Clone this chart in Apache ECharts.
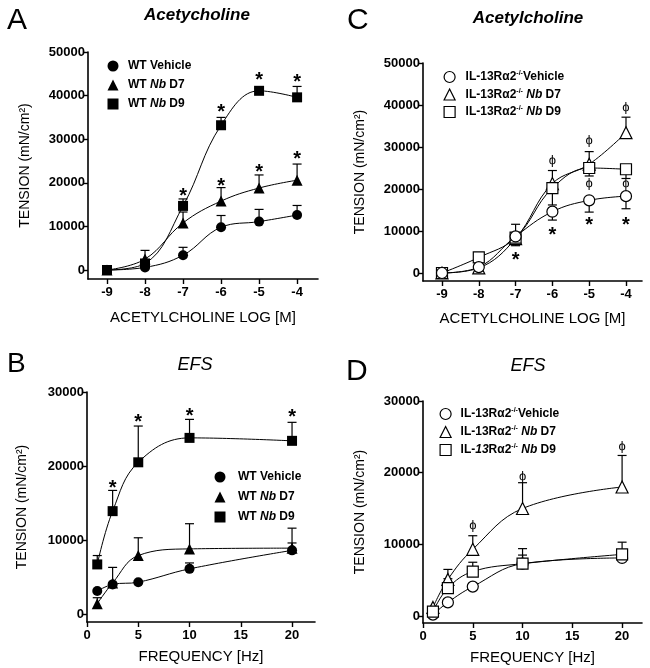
<!DOCTYPE html>
<html><head><meta charset="utf-8">
<script src="https://cdn.jsdelivr.net/npm/echarts/dist/echarts.min.js"></script>
<style>html,body{margin:0;padding:0;background:#fff}#c{width:650px;height:668px}</style>
</head><body><div id="c"></div>
<script>
// ---------- data ----------
const logDose = [-9, -8, -7, -6, -5, -4];
const freq = [1, 2.5, 5, 10, 20];
const logTicks = [-9, -8, -7, -6, -5, -4];
const freqTicks = [0, 5, 10, 15, 20];
const accTensionTicks = [0, 10000, 20000, 30000, 40000, 50000];
const efsTensionTicks = [0, 10000, 20000, 30000];

// Panel A (WT, acetylcholine)
const aVeh = [0, 600, 3400, 9800, 11100, 12600];
const aVehErr = [null, 1000, 5200, 12500, 13900, 14800];
const aD7 = [0, 2500, 10800, 15800, 18800, 20600];
const aD7Err = [null, 4500, 13300, 18900, 21800, 24300];
const aD9 = [0, 1500, 14700, 33200, 41100, 39600];
const aD9Err = [null, 2000, 16300, 35000, 41700, 42100];
const aStarX = [-7, -6, -6, -5, -5, -4, -4];
const aStarY = [18000, 37300, 20300, 44700, 23400, 44100, 26400];

// Panel C (IL-13Ra2-/-, acetylcholine)
const cVeh = [0, 1400, 8700, 14600, 17300, 18300];
const cVehErr = [null, null, 7000, 12600, 14500, 15300];
const cD7 = [0, 1200, 8200, 21300, 25900, 33400];
const cD7Err = [null, null, 11600, 24400, 28900, 37100];
const cD9 = [0, 3700, 8400, 20200, 25000, 24700];
const cD9Err = [null, null, 6500, 16200, 23100, 22500];
const cPhiX = [-6, -5, -4, -5, -4];
const cPhiY = [26800, 31600, 39500, 21400, 21400];
const cStarX = [-7, -6, -5, -4];
const cStarY = [4200, 10200, 12400, 12500];

// Panel B (WT, EFS)
const bVeh = [3100, 4000, 4300, 6100, 8600];
const bVehErr = [null, null, null, 6900, 9600];
const bD7 = [1400, 4200, 7900, 8800, 8900];
const bD7Err = [2200, 6300, 10300, 12200, 11600];
const bD9 = [6700, 13900, 20500, 23800, 23400];
const bD9Err = [7900, 16700, 25400, 26300, 25900];
const bStarX = [2.5, 5, 10, 20];
const bStarY = [17600, 26500, 27400, 27200];

// Panel D (IL-13Ra2-/-, EFS)
const dVeh = [200, 1900, 4100, 7300, 8100];
const dVehErr = [null, null, null, 8500, 9200];
const dD7 = [1200, 5100, 9300, 15000, 18000];
const dD7Err = [null, 6500, 11200, 18600, 22400];
const dD9 = [600, 3900, 6200, 7300, 8600];
const dD9Err = [null, 5200, 7500, 9400, 10300];
const dPhiX = [5, 10, 20];
const dPhiY = [12700, 19500, 23700];

// ---------- helpers ----------
const FONT = '"Liberation Sans", Arial, Helvetica, sans-serif';

function xAx(g, min, max, ticks, name, gap) {
  return {
    type: 'value', gridIndex: g, min, max,
    axisLine: {onZero: false, lineStyle: {color: '#000', width: 1.6}},
    axisTick: {customValues: ticks, length: 5, lineStyle: {color: '#000', width: 1.4}},
    axisLabel: {customValues: ticks, formatter: v => String(v), color: '#000', fontSize: 13, fontWeight: 'bold', fontFamily: FONT, margin: 7},
    splitLine: {show: false},
    name, nameLocation: 'middle', nameGap: gap,
    nameTextStyle: {color: '#000', fontSize: 15, fontFamily: FONT}
  };
}
function yAx(g, min, max, ticks, gap) {
  return {
    type: 'value', gridIndex: g, min, max,
    axisLine: {onZero: false, lineStyle: {color: '#000', width: 1.6}},
    axisTick: {customValues: ticks, length: 5, lineStyle: {color: '#000', width: 1.4}},
    axisLabel: {customValues: ticks, formatter: v => String(v), color: '#000', fontSize: 13, fontWeight: 'bold', fontFamily: FONT, margin: 3},
    splitLine: {show: false},
    name: 'TENSION (mN/cm²)', nameLocation: 'middle', nameRotate: 90, nameGap: gap,
    nameTextStyle: {color: '#000', fontSize: 14, fontFamily: FONT}
  };
}
function lineS(name, xs, ys, idx, symbol, size, open, z) {
  return {
    type: 'line', name, xAxisIndex: idx, yAxisIndex: idx,
    data: xs.map((x, i) => [x, ys[i]]),
    smooth: 0.4, symbol, symbolSize: size, showSymbol: true,
    lineStyle: {color: '#000', width: 1},
    itemStyle: {color: open ? '#fff' : '#000', borderColor: '#000', borderWidth: open ? 1.2 : 0},
    z: z, animation: false, emphasis: {disabled: true}, silent: true
  };
}
function errRender(params, api) {
  const x = api.value(0), y = api.value(1), e = api.value(2);
  const p0 = api.coord([x, y]), p1 = api.coord([x, e]);
  return {type: 'group', children: [
    {type: 'line', shape: {x1: p0[0], y1: p0[1], x2: p1[0], y2: p1[1]}, style: {stroke: '#000', lineWidth: 1.2}},
    {type: 'line', shape: {x1: p1[0] - 4.5, y1: p1[1], x2: p1[0] + 4.5, y2: p1[1]}, style: {stroke: '#000', lineWidth: 1.2}}
  ]};
}
function errS(xs, ys, es, idx) {
  const data = [];
  xs.forEach((x, i) => { if (es[i] != null) data.push([x, ys[i], es[i]]); });
  return {type: 'custom', xAxisIndex: idx, yAxisIndex: idx, data, renderItem: errRender,
    encode: {x: 0, y: [1, 2]}, z: 2, silent: true, animation: false};
}
function textS(xs, ys, txt, idx, size, dy, weight) {
  return {type: 'custom', xAxisIndex: idx, yAxisIndex: idx,
    data: xs.map((x, i) => [x, ys[i]]), encode: {x: 0, y: 1}, z: 6, silent: true, animation: false,
    renderItem: (p, api) => {
      const c = api.coord([api.value(0), api.value(1)]);
      return {type: 'text', x: c[0], y: c[1] + dy,
        style: {text: txt, fill: '#000', fontSize: size, fontFamily: FONT, fontWeight: weight,
          align: 'center', verticalAlign: 'middle'}};
    }};
}
function richFor(pad) {
  return {
    g: {width: pad, fontSize: 12, lineHeight: 14},
    i: {fontStyle: 'italic', fontWeight: 'bold', fontSize: 12, fontFamily: FONT, color: '#000', lineHeight: 14},
    s: {fontWeight: 'bold', fontSize: 7, fontFamily: FONT, color: '#000', lineHeight: 14, verticalAlign: 'top'},
    n: {fontWeight: 'bold', fontSize: 12, fontFamily: FONT, color: '#000', lineHeight: 14}
  };
}
const labels = {
  aV: '{n|WT Vehicle}', a7: '{n|WT }{i|Nb}{n| D7}', a9: '{n|WT }{i|Nb}{n| D9}',
  bV: '{n|WT Vehicle}', b7: '{n|WT }{i|Nb}{n| D7}', b9: '{n|WT }{i|Nb}{n| D9}',
  cV: '{n|IL-13Rα2}{s|-/-}{n|Vehicle}', c7: '{n|IL-13Rα2}{s|-/-}{n| }{i|Nb}{n| D7}', c9: '{n|IL-13Rα2}{s|-/-}{n| }{i|Nb}{n| D9}',
  dV: '{n|IL-13Rα2}{s|-/-}{n|Vehicle}', d7: '{n|IL-13Rα2}{s|-/-}{n| }{i|Nb}{n| D7}', d9: '{n|IL-}{i|13}{n|Rα2}{s|-/-}{n| }{i|Nb}{n| D9}'
};
// centerX: icon centre, textX: text start, firstY: first row centre, step: row spacing
function leg(prefix, centerX, textX, firstY, step, open) {
  const st = open ? {color: '#fff', borderColor: '#000', borderWidth: 1.2} : {color: '#000', borderColor: '#000', borderWidth: 0};
  const pad = Math.max(0, textX - (centerX + 5.5 + 5));
  return {
    orient: 'vertical', left: centerX - 5.5, top: firstY - 7, itemWidth: 11, itemHeight: 11,
    itemGap: step - 14, selectedMode: false, symbolKeepAspect: true,
    data: [
      {name: prefix + 'V', icon: 'circle', itemStyle: st},
      {name: prefix + '7', icon: 'triangle', itemStyle: st},
      {name: prefix + '9', icon: 'rect', itemStyle: st}
    ],
    formatter: n => '{g|}' + labels[n],
    textStyle: {fontSize: 12, fontWeight: 'bold', fontFamily: FONT, color: '#000', lineHeight: 14, rich: richFor(pad)}
  };
}
function txt(x, y, s, size, style, weight, align) {
  return {type: 'text', x, y, style: {text: s, fill: '#000', fontSize: size, fontStyle: style || 'normal',
    fontWeight: weight || 'normal', fontFamily: FONT, align: align || 'center', verticalAlign: 'middle'}};
}

const option = {
  backgroundColor: '#fff',
  animation: false,
  grid: [
    {left: 88, top: 52, width: 230, height: 227},   // A
    {left: 423, top: 63, width: 219, height: 218},  // C
    {left: 87, top: 392, width: 228, height: 230},  // B
    {left: 423, top: 401, width: 219, height: 222}  // D
  ],
  xAxis: [
    xAx(0, -9.5, -3.45, logTicks, 'ACETYLCHOLINE LOG [M]', 31),
    xAx(1, -9.516, -3.565, logTicks, 'ACETYLCHOLINE LOG [M]', 30),
    xAx(2, 0, 22.24, freqTicks, 'FREQUENCY [Hz]', 27),
    xAx(3, 0, 22.0, freqTicks, 'FREQUENCY [Hz]', 27)
  ],
  yAxis: [
    yAx(0, -2064, 50000, accTensionTicks, 56),
    yAx(1, -1905, 50000, accTensionTicks, 56),
    yAx(2, -1081, 30000, efsTensionTicks, 58),
    yAx(3, -977, 30000, efsTensionTicks, 56)
  ],
  legend: [
    leg('a', 108, 123, 61, 19, false),
    leg('c', 444, 460, 72, 17.5, true),
    leg('b', 215, 233, 472, 20, false),
    leg('d', 440, 455, 409, 18, true)
  ],
  graphic: [
    txt(7, 21, 'A', 30, 'normal', 'normal', 'left'),
    txt(347, 21, 'C', 30, 'normal', 'normal', 'left'),
    txt(7, 364, 'B', 28, 'normal', 'normal', 'left'),
    txt(346, 372, 'D', 30, 'normal', 'normal', 'left'),
    txt(197, 15, 'Acetycholine', 17, 'italic', 'bold'),
    txt(528, 18, 'Acetylcholine', 17, 'italic', 'bold'),
    txt(195, 365, 'EFS', 18, 'italic', 'normal'),
    txt(528, 366, 'EFS', 18, 'italic', 'normal')
  ],
  series: [
    errS(logDose, aVeh, aVehErr, 0), errS(logDose, aD7, aD7Err, 0), errS(logDose, aD9, aD9Err, 0),
    lineS('aV', logDose, aVeh, 0, 'circle', 10, false, 3),
    lineS('a7', logDose, aD7, 0, 'triangle', 11, false, 5),
    lineS('a9', logDose, aD9, 0, 'rect', 10, false, 4),
    textS(aStarX, aStarY, '*', 0, 20, 5, 'bold'),

    errS(logDose, cVeh, cVehErr, 1), errS(logDose, cD7, cD7Err, 1), errS(logDose, cD9, cD9Err, 1),
    lineS('cV', logDose, cVeh, 1, 'circle', 11, true, 5),
    lineS('c7', logDose, cD7, 1, 'triangle', 12, true, 3),
    lineS('c9', logDose, cD9, 1, 'rect', 11, true, 4),
    textS(cPhiX, cPhiY, 'ϕ', 1, 13, 0, 'normal'),
    textS(cStarX, cStarY, '*', 1, 20, 5, 'bold'),

    errS(freq, bVeh, bVehErr, 2), errS(freq, bD7, bD7Err, 2), errS(freq, bD9, bD9Err, 2),
    lineS('bV', freq, bVeh, 2, 'circle', 10, false, 4),
    lineS('b7', freq, bD7, 2, 'triangle', 11, false, 3),
    lineS('b9', freq, bD9, 2, 'rect', 10, false, 5),
    textS(bStarX, bStarY, '*', 2, 20, 5, 'bold'),

    errS(freq, dVeh, dVehErr, 3), errS(freq, dD7, dD7Err, 3), errS(freq, dD9, dD9Err, 3),
    lineS('dV', freq, dVeh, 3, 'circle', 11, true, 3),
    lineS('d7', freq, dD7, 3, 'triangle', 12, true, 4),
    lineS('d9', freq, dD9, 3, 'rect', 11, true, 5),
    textS(dPhiX, dPhiY, 'ϕ', 3, 13, 0, 'normal')
  ]
};
const chart = echarts.init(document.getElementById('c'), null, {renderer: 'canvas'});
chart.setOption(option);
</script>
</body></html>
